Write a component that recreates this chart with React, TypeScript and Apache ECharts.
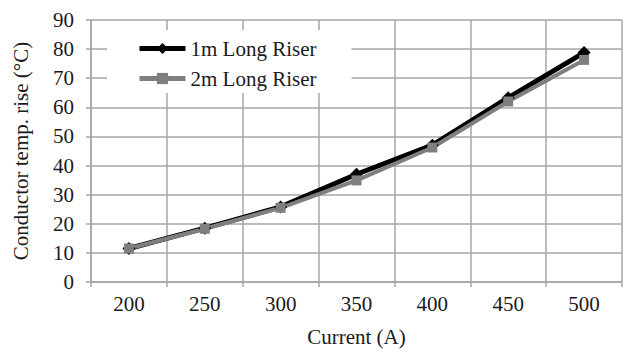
import React, { useEffect, useRef } from "react";
import * as echarts from "echarts";

const categories = ["200", "250", "300", "350", "400", "450", "500"];
const riser1m = [11.5, 18.5, 25.8, 37, 47, 63.3, 78.8];
const riser2m = [11.5, 18.3, 25.5, 34.9, 46.2, 62, 76.3];
const seriesNames = ["1m Long Riser", "2m Long Riser"];

const FONT = "Liberation Serif";
const GRID = "#a6a6a6";
const TXT = "#1a1a1a";

export default function App() {
  const ref = useRef<HTMLDivElement>(null);
  useEffect(() => {
    if (!ref.current) return;
    const chart = echarts.init(ref.current, undefined, { renderer: "svg" });
    chart.setOption({
      animation: false,
      backgroundColor: "#fff",
      textStyle: { fontFamily: FONT, fontSize: 21 },
      grid: { left: 91, right: 7, top: 20, bottom: 70, containLabel: false },
      legend: {
        orient: "vertical",
        left: 107,
        top: 30,
        backgroundColor: "#fff",
        padding: [8, 35, 4, 30],
        itemGap: 9,
        itemWidth: 46,
        itemHeight: 14,
        lineStyle: { width: 5 },
        textStyle: { fontFamily: FONT, fontSize: 21, color: TXT },
        data: seriesNames,
      },
      xAxis: {
        type: "category",
        data: categories,
        boundaryGap: true,
        name: "Current (A)",
        nameLocation: "middle",
        nameGap: 44,
        nameTextStyle: { fontFamily: FONT, fontSize: 21, color: TXT },
        axisLine: { show: true, lineStyle: { color: GRID, width: 1.5 } },
        axisTick: { show: true, length: 5, interval: 0, lineStyle: { color: GRID, width: 1.5 } },
        axisLabel: {
          interval: 0,
          hideOverlap: false,
          fontFamily: FONT,
          fontSize: 21,
          color: TXT,
          margin: 11,
        },
        splitLine: { show: true, interval: 0, lineStyle: { color: GRID, width: 1.5 } },
      },
      yAxis: {
        type: "value",
        min: 0,
        max: 90,
        interval: 10,
        name: "Conductor temp. rise (°C)",
        nameLocation: "middle",
        nameGap: 60,
        nameTextStyle: { fontFamily: FONT, fontSize: 21, color: TXT },
        axisLine: { show: true, lineStyle: { color: GRID, width: 1.5 } },
        axisTick: { show: true, length: 5, lineStyle: { color: GRID, width: 1.5 } },
        axisLabel: {
          fontFamily: FONT,
          fontSize: 21,
          color: TXT,
          margin: 17,
        },
        splitLine: { show: true, lineStyle: { color: GRID, width: 1.5 } },
      },
      series: [
        {
          name: seriesNames[0],
          type: "line",
          data: riser1m,
          symbol: "diamond",
          symbolSize: 13,
          itemStyle: { color: "#000" },
          lineStyle: { color: "#000", width: 5 },
        },
        {
          name: seriesNames[1],
          type: "line",
          data: riser2m,
          symbol: "rect",
          symbolSize: 10,
          itemStyle: { color: "#7f7f7f" },
          lineStyle: { color: "#7f7f7f", width: 4 },
        },
      ],
    });
    return () => chart.dispose();
  }, []);
  return <div ref={ref} style={{ width: 629, height: 352, position: "absolute", left: 0, top: 0 }} />;
}
